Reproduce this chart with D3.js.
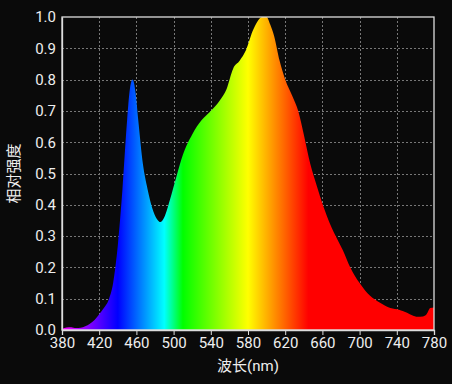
<!DOCTYPE html>
<html>
<head>
<meta charset="utf-8">
<script src="https://cdn.jsdelivr.net/npm/d3@7"></script>
<style>
  html, body { margin: 0; padding: 0; background: #0a0a0a; }
  svg { display: block; }
  text { font-family: Roboto, "Noto Sans CJK SC", sans-serif; fill: #eeeeee; }
</style>
</head>
<body>
<svg id="chart" width="452" height="384"></svg>
<script>
// spectrum
const wavelengths = [380,385,390,395,400,405,410,415,420,425,430,435,440,445,450,453,456,459,462,467,472,477,482,486,490,496,503,510,520,530,540,550,557,564,571,578,585,590,595,600,604,608,614,620,628,634,640,647,654,661,668,676,682,690,700,711,722,733,743,751,757,762,768,772,776,780];
const intensity   = [0.004,0.008,0.009,0.006,0.007,0.012,0.02,0.032,0.05,0.07,0.095,0.15,0.27,0.45,0.67,0.77,0.80,0.76,0.67,0.53,0.45,0.39,0.355,0.345,0.36,0.415,0.49,0.56,0.625,0.67,0.70,0.735,0.77,0.835,0.86,0.895,0.955,0.985,1.0,1.0,0.975,0.94,0.86,0.80,0.745,0.70,0.625,0.53,0.46,0.395,0.34,0.29,0.255,0.20,0.15,0.11,0.087,0.07,0.064,0.055,0.046,0.042,0.043,0.05,0.07,0.072];

const xTicks = [380,420,460,500,540,580,620,660,700,740,780];
const yTicks = [0,0.1,0.2,0.3,0.4,0.5,0.6,0.7,0.8,0.9,1.0];

// colour stops of the visible spectrum
const stopNm  = [380,440,490,510,580,645,780];
const stopCol = ["#ff00ff","#0000ff","#00ffff","#00ff00","#ffff00","#ff0000","#ff0000"];

const data = wavelengths.map((w,i) => ({w, v: intensity[i]}));

const svg = d3.select("#chart");
const m = {l: 62, r: 18, t: 17, b: 54};
const W = 452, H = 384;

const x = d3.scaleLinear().domain([380,780]).range([m.l, W - m.r]);
const y = d3.scaleLinear().domain([0,1]).range([H - m.b, m.t]);

// gradient along x in user space
const grad = svg.append("defs").append("linearGradient")
    .attr("id", "spec")
    .attr("gradientUnits", "userSpaceOnUse")
    .attr("x1", x(380)).attr("x2", x(780))
    .attr("y1", 0).attr("y2", 0);
grad.selectAll("stop")
    .data(stopNm)
    .enter().append("stop")
      .attr("offset", d => (d - 380) / 400)
      .attr("stop-color", (d,i) => stopCol[i]);

// grid
const grid = svg.append("g").attr("stroke", "#777").attr("stroke-dasharray", "2,2").attr("stroke-width", 1);
grid.selectAll(".gx").data(xTicks.slice(1,-1)).enter().append("line")
    .attr("x1", d => Math.round(x(d)) + 0.5).attr("x2", d => Math.round(x(d)) + 0.5)
    .attr("y1", y(1)).attr("y2", y(0));
grid.selectAll(".gy").data(yTicks.slice(1,-1)).enter().append("line")
    .attr("x1", x(380)).attr("x2", x(780))
    .attr("y1", d => Math.round(y(d)) + 0.5).attr("y2", d => Math.round(y(d)) + 0.5);

// area
const area = d3.area()
    .x(d => x(d.w))
    .y0(y(0))
    .y1(d => y(d.v))
    .curve(d3.curveMonotoneX);

svg.append("path")
    .datum(data)
    .attr("fill", "url(#spec)")
    .attr("d", area);

// frame
svg.append("rect")
    .attr("x", x(380)).attr("y", y(1))
    .attr("width", x(780) - x(380)).attr("height", y(0) - y(1))
    .attr("fill", "none").attr("stroke", "#dddddd").attr("stroke-width", 1.3);

// axes
const xAxis = svg.append("g")
    .attr("transform", `translate(0,${y(0)})`)
    .call(d3.axisBottom(x).tickValues(xTicks).tickSize(5).tickPadding(2).tickFormat(d3.format("d")));
const yAxis = svg.append("g")
    .attr("transform", `translate(${x(380)},0)`)
    .call(d3.axisLeft(y).tickValues(yTicks).tickSize(0).tickPadding(6).tickFormat(d3.format(".1f")));

[xAxis, yAxis].forEach(g => {
  g.select(".domain").attr("stroke", "#dddddd").attr("stroke-width", 1.3);
  g.selectAll(".tick line").attr("stroke", "#dddddd");
  g.selectAll(".tick text").attr("fill", "#eeeeee").style("font-size", "15px")
    .style("font-family", "Roboto, sans-serif");
});

svg.append("text")
    .attr("x", (x(380) + x(780)) / 2)
    .attr("y", 371)
    .attr("text-anchor", "middle")
    .style("font-size", "15px")
    .text("波长(nm)");

svg.append("text")
    .attr("transform", `translate(19,${(y(0) + y(1)) / 2}) rotate(-90)`)
    .attr("text-anchor", "middle")
    .style("font-size", "15px")
    .text("相对强度");
</script>
</body>
</html>
